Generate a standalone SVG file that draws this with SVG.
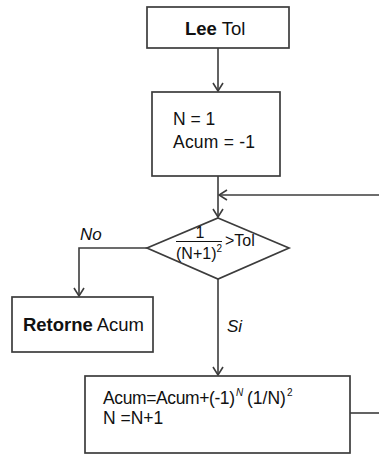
<svg xmlns="http://www.w3.org/2000/svg" width="379" height="454" viewBox="0 0 379 454">
  <style>
    .box { fill: #ffffff; stroke: #3c3c3c; stroke-width: 1.7; }
    .line { fill: none; stroke: #3c3c3c; stroke-width: 1.6; }
    .t { font-family: "Liberation Sans", Arial, sans-serif; font-size: 17.5px; fill: #111; }
    .big { font-size: 18.5px; }
    .b { font-weight: bold; }
    .lbl { font-family: "Liberation Sans", Arial, sans-serif; font-size: 17px; font-style: italic; fill: #111; }
    .sm { font-family: "Liberation Sans", Arial, sans-serif; font-size: 16px; fill: #111; }
    .sup { font-size: 10px; }
  </style>
  <defs>
    <marker id="arrow" viewBox="0 0 12 12" refX="11" refY="6" markerWidth="12" markerHeight="12" markerUnits="userSpaceOnUse" orient="auto">
      <path d="M3,1 L11,6 L3,11" fill="none" stroke="#3c3c3c" stroke-width="1.6"/>
    </marker>
  </defs>

  <rect width="379" height="454" fill="#ffffff"/>

  <g id="connectors">
    <line class="line" x1="218" y1="48" x2="218" y2="91" marker-end="url(#arrow)"/>
    <line class="line" x1="218" y1="176" x2="218" y2="217" marker-end="url(#arrow)"/>
    <line class="line" x1="379" y1="195" x2="219" y2="195" marker-end="url(#arrow)"/>
    <polyline class="line" points="147,248 79,248 79,296" marker-end="url(#arrow)"/>
    <line class="line" x1="218" y1="279" x2="218" y2="375" marker-end="url(#arrow)"/>
    <line class="line" x1="350" y1="413" x2="379" y2="413"/>
    <text class="lbl" x="80" y="240">No</text>
    <text class="lbl" x="227" y="332">Si</text>
  </g>

  <g id="node-lee-tol">
    <rect class="box" x="147" y="7" width="142" height="41"/>
    <text class="t big" x="185" y="35"><tspan class="b">Lee</tspan> Tol</text>
  </g>

  <g id="node-init">
    <rect class="box" x="152" y="92" width="128" height="84"/>
    <text class="t" x="173" y="125">N = 1</text>
    <text class="t" x="173" y="148" textLength="82">Acum = -1</text>
  </g>

  <g id="node-decision">
    <polygon class="box" points="218,218 289,248 218,279 147,248"/>
    <text class="sm" x="200" y="238" text-anchor="middle">1</text>
    <line x1="176" y1="241.5" x2="222" y2="241.5" stroke="#111" stroke-width="1.2"/>
    <text class="sm" x="176" y="259">(N+1)<tspan class="sup" dy="-7">2</tspan></text>
    <text class="sm" x="225" y="246">&gt;Tol</text>
  </g>

  <g id="node-retorne">
    <rect class="box" x="12" y="297" width="141" height="55"/>
    <text class="t big" x="23" y="331" textLength="121"><tspan class="b">Retorne</tspan> Acum</text>
  </g>

  <g id="node-update">
    <rect class="box" x="85" y="376" width="265" height="77"/>
    <text class="t" x="103" y="404" textLength="132">Acum=Acum+(-1)</text>
    <text class="t sup" x="236" y="396" font-style="italic">N</text>
    <text class="t" x="247" y="404">(1/N)</text>
    <text class="t sup" x="287" y="396">2</text>
    <text class="t" x="103" y="424">N =N+1</text>
  </g>
</svg>
